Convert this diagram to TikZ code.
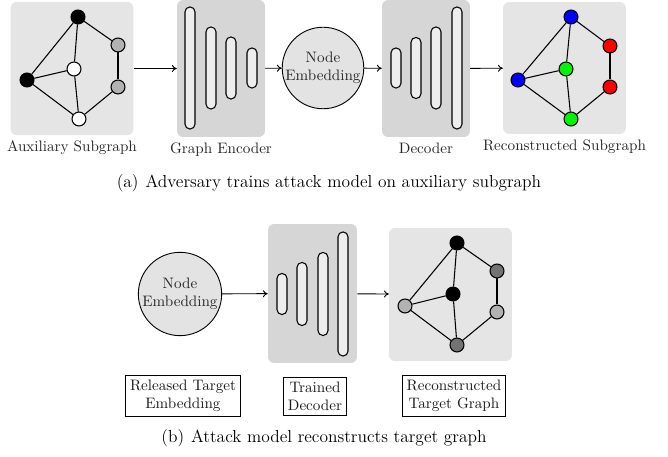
\documentclass[tikz,border=0pt]{standalone}
\usetikzlibrary{positioning}
\usetikzlibrary{arrows.meta}
\definecolor{vblue}{RGB}{0,0,250}
\definecolor{vred}{RGB}{250,0,0}
\definecolor{vgreen}{RGB}{0,245,0}
\begin{document}
\begin{tikzpicture}[x=0.66pt, y=-0.66pt, >={To[length=3.2pt, width=4.6pt]}, draw=black, font=\rmfamily]
			\tikzstyle{vtx}=[circle, draw=black, line width=0.7pt, minimum size=9.2pt, inner sep=0pt]
			\tikzstyle{panel}=[rectangle, rounded corners=4pt, fill=black!10, inner sep=0pt]
			\tikzstyle{darkpanel}=[panel, fill=black!16]
			\tikzstyle{bar}=[rectangle, draw=black, line width=0.7pt, fill=black!7, rounded corners=3.2pt, minimum width=6.6pt, inner sep=0pt]
			\tikzstyle{embed}=[circle, draw=black, line width=0.6pt, fill=black!11, text=black!85, align=center, inner sep=0pt]
			\tikzstyle{lbl}=[text=black!85, inner sep=3.3pt]
			\tikzstyle{tagbox}=[draw=black, line width=0.6pt, align=center, text=black!90, inner sep=3pt]
			\tikzstyle{link}=[line width=0.7pt]
			\tikzstyle{flow}=[->, line width=0.6pt]
			\useasboundingbox (0,0) rectangle (668,457);
			
			% (a) top row
			\node[panel, minimum width=81pt, minimum height=88pt] (aux) at (72,68.5) {};
			\node[darkpanel, minimum width=58pt, minimum height=90.4pt] (enc) at (221,68.5) {};
			\node[embed, minimum size=53pt] (emb) at (323,68) {Node\\Embedding};
			\node[darkpanel, minimum width=58pt, minimum height=90.4pt] (dec) at (426,68.5) {};
			\node[panel, minimum width=81pt, minimum height=87pt] (rec) at (564.5,68) {};
			
			\foreach \bx/\bh [count=\i] in {190/122, 211/82, 231/62, 252/40}
				\node[bar, minimum height=\bh*0.66pt] (enc\i) at (\bx,68) {};
			\foreach \bx/\bh [count=\i] in {396/40, 416/61, 436/82, 457/122}
				\node[bar, minimum height=\bh*0.66pt] (dec\i) at (\bx,68) {};
			
			\node[vtx, fill=black] (a1) at (78,17) {};
			\node[vtx, fill=black!30] (a2) at (118,45) {};
			\node[vtx, fill=black!30] (a3) at (118,87) {};
			\node[vtx, fill=black] (a4) at (27,80) {};
			\node[vtx, fill=white] (a5) at (74,69) {};
			\node[vtx, fill=white] (a6) at (79,119) {};
			\foreach \u/\v in {a1/a4, a1/a5, a1/a2, a2/a3, a3/a6, a6/a4, a4/a5, a5/a6}
				\draw[link] (\u) -- (\v);
			
			\node[vtx, fill=vblue] (r1) at (571,17) {};
			\node[vtx, fill=vred] (r2) at (610,46) {};
			\node[vtx, fill=vred] (r3) at (610,87) {};
			\node[vtx, fill=vblue] (r4) at (518,80) {};
			\node[vtx, fill=vgreen] (r5) at (566,69) {};
			\node[vtx, fill=vgreen] (r6) at (571,119) {};
			\foreach \u/\v in {r1/r4, r1/r5, r1/r2, r2/r3, r3/r6, r6/r4, r4/r5, r5/r6}
				\draw[link] (\u) -- (\v);
			
			\draw[flow] (aux) -- (enc);
			\draw[flow] (enc) -- (emb);
			\draw[flow] (emb) -- (dec);
			\draw[flow] (dec) -- (rec);
			
			\node[lbl, below=0pt of aux] {Auxiliary Subgraph};
			\node[lbl, below=0pt of enc] {Graph Encoder};
			\node[lbl, below=0pt of dec] {Decoder};
			\node[lbl, below=0pt of rec] {Reconstructed Subgraph};
			
			\node (capa) at (329,183) {\fontsize{11.5}{14}\selectfont (a)\hspace{0.4em}Adversary trains attack model on auxiliary subgraph};
			
			% (b) bottom row
			\node[embed, minimum size=55pt] (emb2) at (180,294) {Node\\Embedding};
			\node[darkpanel, minimum width=58.7pt, minimum height=91.7pt] (tdec) at (312.5,293.5) {};
			\node[panel, minimum width=81pt, minimum height=88pt] (tgt) at (450.5,294.5) {};
			
			\foreach \bx/\bh [count=\i] in {282/41, 302/63, 323/83, 343/124}
				\node[bar, minimum height=\bh*0.66pt] (tdec\i) at (\bx,294) {};
			
			\node[vtx, fill=black] (t1) at (457,243) {};
			\node[vtx, fill=black!55] (t2) at (497,271) {};
			\node[vtx, fill=black!30] (t3) at (497,312) {};
			\node[vtx, fill=black!30] (t4) at (405,306) {};
			\node[vtx, fill=black] (t5) at (453,294) {};
			\node[vtx, fill=black!55] (t6) at (457,345) {};
			\foreach \u/\v in {t1/t4, t1/t5, t1/t2, t2/t3, t3/t6, t6/t4, t4/t5, t5/t6}
				\draw[link] (\u) -- (\v);
			
			\draw[flow] (emb2) -- (tdec);
			\draw[flow] (tdec) -- (tgt);
			
			\node[tagbox] (rel) at (183,396) {Released Target\\Embedding};
			\node[tagbox] (trn) at (315,396) {Trained\\Decoder};
			\node[tagbox] (rtg) at (454,396) {Reconstructed\\Target Graph};
			
			\node (capb) at (324,438) {\fontsize{11.5}{14}\selectfont (b)\hspace{0.4em}Attack model reconstructs target graph};
		\end{tikzpicture}
\end{document}
